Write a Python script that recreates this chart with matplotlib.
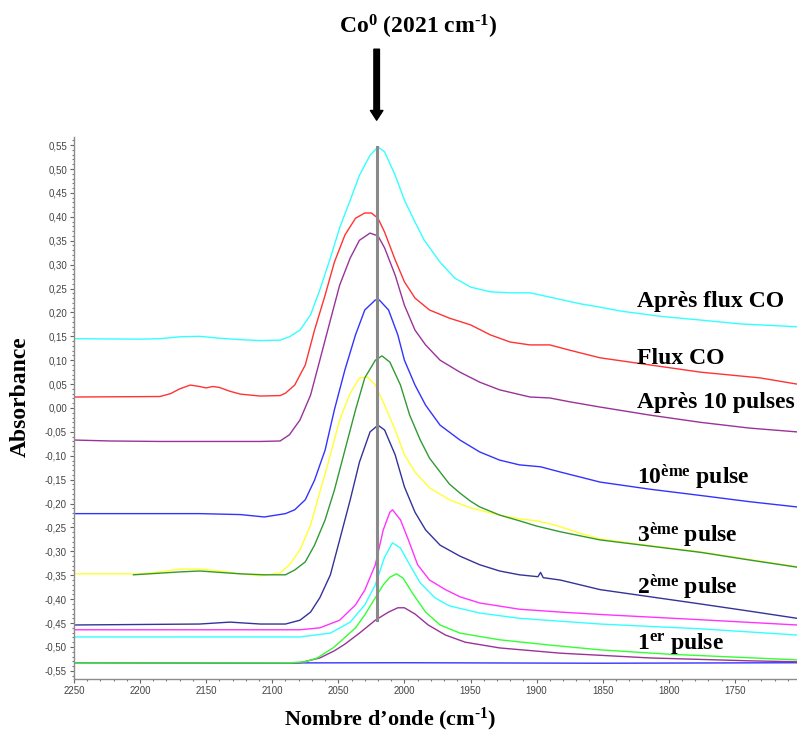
import matplotlib
matplotlib.use("Agg")
import matplotlib.pyplot as plt
from matplotlib.ticker import MultipleLocator, FuncFormatter
from matplotlib.transforms import blended_transform_factory

plt.rcParams["font.family"] = ["Liberation Serif", "DejaVu Serif"]
plt.rcParams["mathtext.fontset"] = "custom"
plt.rcParams["mathtext.rm"] = "Liberation Serif:bold"
plt.rcParams["mathtext.it"] = "Liberation Serif:bold"
plt.rcParams["mathtext.bf"] = "Liberation Serif:bold"

# ---- IR spectra (wavenumber in cm-1, absorbance) ----
wn_apres_flux = [2250, 2200, 2185, 2170, 2155, 2140, 2124, 2109, 2094, 2087, 2079, 2071, 2064,
                 2056, 2049, 2041, 2034, 2026, 2020, 2015, 2007, 2000, 1992, 1985, 1973, 1962,
                 1950, 1935, 1920, 1905, 1890, 1867, 1852, 1837, 1807, 1776, 1746, 1703]
ab_apres_flux = [0.145, 0.144, 0.145, 0.149, 0.150, 0.146, 0.143, 0.141, 0.142, 0.149, 0.163,
                 0.195, 0.247, 0.314, 0.377, 0.435, 0.487, 0.529, 0.546, 0.536, 0.487, 0.435,
                 0.389, 0.351, 0.305, 0.272, 0.253, 0.243, 0.241, 0.241, 0.232, 0.218, 0.211,
                 0.203, 0.192, 0.184, 0.176, 0.170]

wn_flux = [2250, 2185, 2177, 2170, 2162, 2155, 2150, 2145, 2140, 2132, 2124, 2109, 2094, 2090,
           2083, 2075, 2068, 2060, 2053, 2045, 2037, 2030, 2025, 2020, 2015, 2007, 2000, 1992,
           1981, 1966, 1950, 1935, 1920, 1905, 1890, 1875, 1852, 1814, 1776, 1731, 1703]
ab_flux = [0.023, 0.024, 0.030, 0.040, 0.048, 0.045, 0.042, 0.045, 0.043, 0.035, 0.029, 0.025,
           0.026, 0.031, 0.048, 0.090, 0.163, 0.236, 0.305, 0.362, 0.397, 0.408, 0.408, 0.397,
           0.368, 0.310, 0.264, 0.230, 0.205, 0.188, 0.174, 0.153, 0.138, 0.132, 0.132, 0.121,
           0.105, 0.090, 0.075, 0.063, 0.050]

wn_10p_apres = [2250, 2223, 2185, 2109, 2094, 2087, 2079, 2071, 2064, 2056, 2049, 2041, 2034,
                2026, 2020, 2015, 2007, 2000, 1992, 1984, 1973, 1958, 1943, 1928, 1905, 1890,
                1875, 1852, 1814, 1776, 1739, 1703]
ab_10p_apres = [-0.067, -0.069, -0.070, -0.070, -0.069, -0.056, -0.025, 0.027, 0.100, 0.184,
                0.257, 0.314, 0.351, 0.366, 0.360, 0.335, 0.278, 0.215, 0.163, 0.132, 0.100,
                0.075, 0.054, 0.038, 0.023, 0.021, 0.013, 0.002, -0.015, -0.030, -0.042, -0.050]

wn_p10 = [2250, 2155, 2124, 2106, 2090, 2083, 2075, 2068, 2060, 2053, 2045, 2037, 2030, 2022,
          2019, 2012, 2005, 2000, 1992, 1984, 1973, 1958, 1943, 1928, 1913, 1897, 1882, 1852,
          1814, 1776, 1739, 1703]
ab_p10 = [-0.221, -0.221, -0.223, -0.228, -0.221, -0.213, -0.192, -0.151, -0.088, -0.004, 0.080,
          0.153, 0.205, 0.226, 0.226, 0.205, 0.153, 0.100, 0.048, 0.006, -0.036, -0.067, -0.092,
          -0.109, -0.119, -0.123, -0.134, -0.155, -0.170, -0.183, -0.196, -0.207]

wn_p3 = [2205, 2170, 2155, 2124, 2106, 2090, 2083, 2075, 2068, 2060, 2053, 2045, 2037, 2030,
         2022, 2017, 2011, 2003, 1996, 1988, 1981, 1973, 1966, 1958, 1950, 1943, 1928, 1913,
         1900, 1882, 1852, 1814, 1776, 1739, 1703]
ab_p3 = [-0.349, -0.343, -0.341, -0.347, -0.349, -0.349, -0.339, -0.322, -0.287, -0.234, -0.172,
         -0.088, -0.004, 0.063, 0.100, 0.109, 0.096, 0.048, -0.015, -0.067, -0.105, -0.134,
         -0.159, -0.178, -0.195, -0.207, -0.224, -0.236, -0.247, -0.259, -0.276, -0.289, -0.302,
         -0.318, -0.333]

wn_yellow = [2250, 2200, 2185, 2170, 2155, 2140, 2124, 2109, 2094, 2087, 2079, 2071, 2064, 2056,
             2049, 2041, 2034, 2028, 2022, 2015, 2007, 2000, 1992, 1981, 1966, 1950, 1928, 1913,
             1900, 1886, 1867, 1852, 1814, 1776, 1739, 1703]
ab_yellow = [-0.347, -0.347, -0.343, -0.337, -0.337, -0.341, -0.347, -0.351, -0.345, -0.328,
             -0.297, -0.245, -0.176, -0.098, -0.025, 0.031, 0.063, 0.065, 0.048, 0.006, -0.046,
             -0.098, -0.134, -0.167, -0.192, -0.209, -0.224, -0.232, -0.236, -0.245, -0.262,
             -0.274, -0.288, -0.301, -0.317, -0.332]

wn_p2 = [2250, 2155, 2132, 2109, 2090, 2079, 2071, 2064, 2056, 2049, 2041, 2034, 2026, 2020,
         2015, 2007, 2000, 1992, 1984, 1973, 1958, 1943, 1928, 1913, 1899, 1897, 1895, 1882,
         1852, 1814, 1776, 1739, 1703]
ab_p2 = [-0.454, -0.452, -0.448, -0.452, -0.452, -0.444, -0.427, -0.397, -0.349, -0.276, -0.192,
         -0.113, -0.050, -0.036, -0.046, -0.098, -0.165, -0.218, -0.255, -0.287, -0.310, -0.328,
         -0.341, -0.349, -0.353, -0.344, -0.355, -0.360, -0.380, -0.395, -0.410, -0.425, -0.440]

wn_magenta = [2250, 2079, 2064, 2049, 2037, 2030, 2022, 2016, 2011, 2009, 2003, 1997, 1990, 1981,
              1969, 1958, 1943, 1913, 1882, 1852, 1776, 1703]
ab_magenta = [-0.464, -0.464, -0.460, -0.444, -0.412, -0.381, -0.328, -0.255, -0.218, -0.213,
              -0.234, -0.276, -0.328, -0.360, -0.380, -0.395, -0.408, -0.421, -0.427, -0.432,
              -0.443, -0.454]

wn_cyan2 = [2250, 2079, 2056, 2041, 2030, 2022, 2015, 2009, 2003, 1996, 1988, 1977, 1966, 1943,
            1913, 1852, 1776, 1703]
ab_cyan2 = [-0.479, -0.479, -0.471, -0.448, -0.412, -0.370, -0.312, -0.282, -0.293, -0.328,
            -0.366, -0.397, -0.414, -0.429, -0.440, -0.452, -0.462, -0.475]

wn_p1 = [2250, 2087, 2075, 2066, 2054, 2047, 2037, 2030, 2022, 2016, 2011, 2006, 2001, 1994,
         1984, 1973, 1958, 1928, 1890, 1852, 1801, 1703]
ab_p1 = [-0.534, -0.533, -0.531, -0.523, -0.502, -0.485, -0.460, -0.433, -0.397, -0.370, -0.354,
         -0.347, -0.356, -0.387, -0.427, -0.454, -0.471, -0.485, -0.496, -0.506, -0.515, -0.527]

wn_purple2 = [2250, 2079, 2064, 2053, 2045, 2034, 2022, 2012, 2005, 2000, 1992, 1982, 1969, 1954,
              1928, 1882, 1814, 1739, 1703]
ab_purple2 = [-0.534, -0.533, -0.523, -0.508, -0.494, -0.471, -0.444, -0.427, -0.418, -0.418,
              -0.431, -0.454, -0.475, -0.490, -0.502, -0.513, -0.523, -0.529, -0.531]

wn_ref = [2250, 2000, 1850, 1703]
ab_ref = [-0.534, -0.533, -0.534, -0.533]

# position of the Co0 carbonyl band and the guide line drawn through it
co0_wn = 2021
guide_ab = [-0.444, 0.546]

series = [
    (wn_ref, ab_ref, "#3333ff"),
    (wn_purple2, ab_purple2, "#993399"),
    (wn_p1, ab_p1, "#33ff33"),
    (wn_cyan2, ab_cyan2, "#33ffff"),
    (wn_magenta, ab_magenta, "#ff33ff"),
    (wn_p2, ab_p2, "#333399"),
    (wn_yellow, ab_yellow, "#ffff33"),
    (wn_p3, ab_p3, "#339933"),
    (wn_p10, ab_p10, "#3333ff"),
    (wn_10p_apres, ab_10p_apres, "#993399"),
    (wn_flux, ab_flux, "#ff3333"),
    (wn_apres_flux, ab_apres_flux, "#33ffff"),
]

labels = ["Après flux CO", "Flux CO", "Après 10 pulses", "10$^{ème}$ pulse",
          "3$^{ème}$ pulse", "2$^{ème}$ pulse", "1$^{er}$ pulse"]
label_ab = [0.212, 0.092, 0.000, -0.160, -0.280, -0.390, -0.505]
label_wn = 1824

fig = plt.figure(figsize=(7.97, 7.35), dpi=100)
ax = fig.add_axes([0.0928, 0.0762, 0.9072, 0.7374])

for wn, ab, col in series:
    ax.plot(wn, ab, color=col, lw=1.0, solid_joinstyle="round")

ax.plot([co0_wn, co0_wn], guide_ab, color="#8a8a8a", lw=2.2, zorder=5)

ax.set_xlim(2250, 1703)
ax.set_ylim(-0.567, 0.567)

for s in ("top", "right"):
    ax.spines[s].set_visible(False)
for s in ("left", "bottom"):
    ax.spines[s].set_color("#8c8c8c")
    ax.spines[s].set_linewidth(1.0)

ax.xaxis.set_major_locator(MultipleLocator(50))
ax.xaxis.set_minor_locator(MultipleLocator(10))
ax.yaxis.set_major_locator(MultipleLocator(0.05))
ax.yaxis.set_minor_locator(MultipleLocator(0.01))
ax.yaxis.set_major_formatter(FuncFormatter(lambda v, p: f"{v:.2f}".replace(".", ",")))
ax.xaxis.set_major_formatter(FuncFormatter(lambda v, p: f"{v:.0f}"))
ax.tick_params(which="major", length=3, width=0.8, color="#666666", pad=2,
               labelsize=7, labelcolor="#444444")
ax.tick_params(which="minor", length=1.5, width=0.8, color="#777777")
for t in ax.get_xticklabels() + ax.get_yticklabels():
    t.set_family("Liberation Sans")

bold = dict(fontweight="bold", color="black")
for text, yv in zip(labels, label_ab):
    ax.text(label_wn, yv, text, fontsize=17, ha="left", va="baseline", **bold)

fig.text(20 / 797, 1 - 397 / 735, "Absorbance", fontsize=17, rotation=90,
         ha="center", va="center", **bold)
fig.text(390 / 797, 1 - 719 / 735, "Nombre d\u2019onde (cm$^{\u2010 1}$)", fontsize=16,
         ha="center", va="center", **bold)

fig.text(418 / 797, 1 - 27 / 735, "Co$^{0}$ (2021 cm$^{\u2010 1}$)", fontsize=17,
         ha="center", va="center", **bold)
trans = blended_transform_factory(ax.transData, ax.transAxes)
ax.annotate("", xy=(co0_wn, 1.031), xytext=(co0_wn, 1.162), xycoords=trans, textcoords=trans,
            annotation_clip=False,
            arrowprops=dict(width=4.0, headwidth=9, headlength=7, facecolor="black",
                            edgecolor="black", shrink=0))

fig.savefig("out.png", dpi=100)
